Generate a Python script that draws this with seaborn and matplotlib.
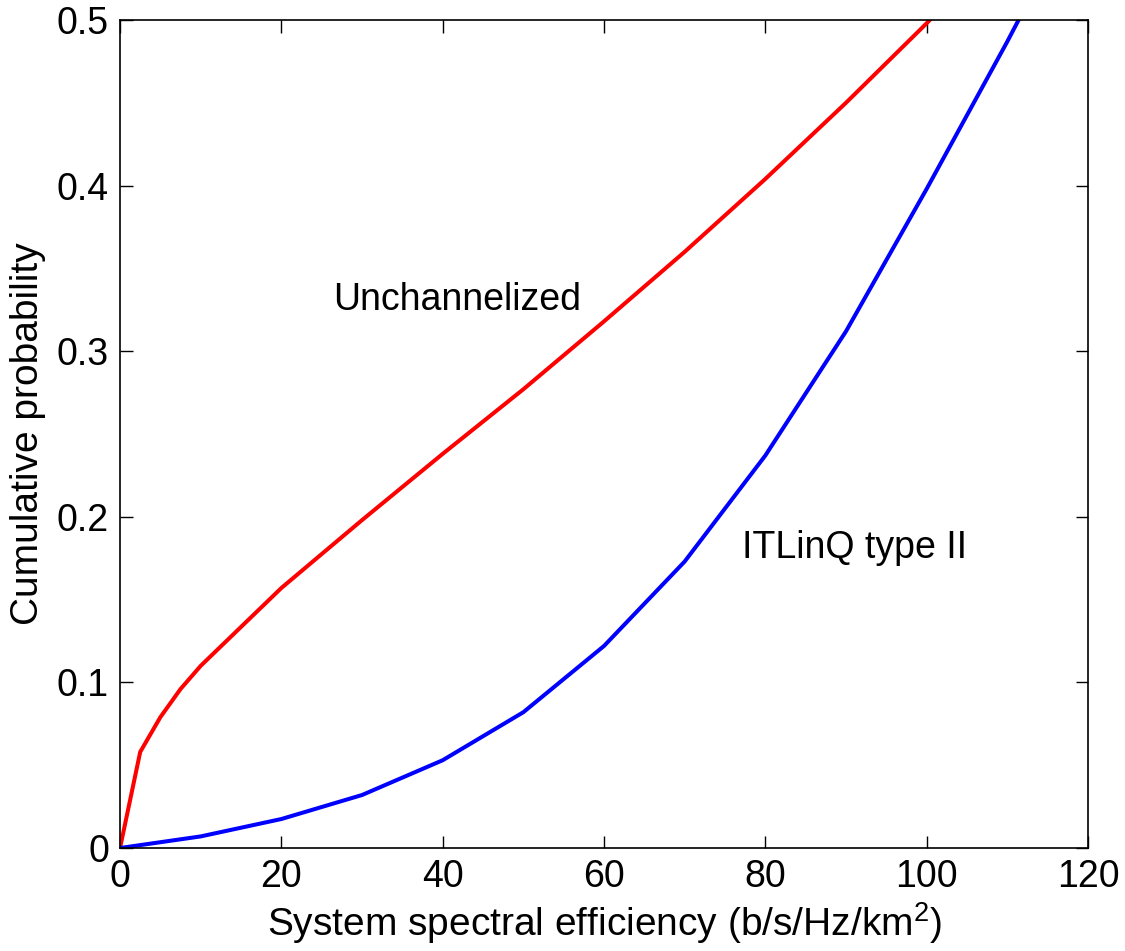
import numpy as np
import pandas as pd
import matplotlib
matplotlib.use('Agg')
import matplotlib.pyplot as plt
import seaborn as sns

# Data
x_unch = [0, 2.5, 5, 7.5, 10, 20, 30, 40, 50, 60, 70, 80, 90, 100, 110]
y_unch = [0, 0.058, 0.079, 0.096, 0.110, 0.157, 0.198, 0.238, 0.277, 0.318, 0.360, 0.404, 0.450, 0.498, 0.55]

x_itl = [0, 10, 20, 30, 40, 50, 60, 70, 80, 90, 100, 110, 120]
y_itl = [0, 0.007, 0.0175, 0.032, 0.053, 0.082, 0.122, 0.173, 0.237, 0.312, 0.398, 0.487, 0.58]

labels = ['Unchannelized', 'ITLinQ type II']
colors = ['#ff0000', '#0000ff']

df = pd.concat([
    pd.DataFrame({'x': x_unch, 'y': y_unch, 'scheme': labels[0]}),
    pd.DataFrame({'x': x_itl, 'y': y_itl, 'scheme': labels[1]}),
])

sns.set_style('ticks', {'axes.edgecolor': 'black', 'text.color': 'black',
                        'axes.labelcolor': 'black', 'xtick.color': 'black',
                        'ytick.color': 'black'})
plt.rcParams['font.family'] = ['Liberation Sans', 'DejaVu Sans']
plt.rcParams['mathtext.fontset'] = 'custom'
plt.rcParams['mathtext.rm'] = 'Liberation Sans'

fig = plt.figure(figsize=(11.25, 9.51), dpi=100)
ax = fig.add_axes([0.1067, 0.1083, 0.8604, 0.8707])

sns.lineplot(data=df, x='x', y='y', hue='scheme', palette=colors,
             linewidth=2.9, legend=False, ax=ax, sort=False)

ax.set_xlim(0, 120)
ax.set_ylim(0, 0.5)
ax.set_xticks([0, 20, 40, 60, 80, 100, 120])
ax.set_yticks([0, 0.1, 0.2, 0.3, 0.4, 0.5])
ax.set_yticklabels(['0', '0.1', '0.2', '0.3', '0.4', '0.5'])
ax.tick_params(direction='in', top=True, right=True, length=9, width=1,
               labelsize=27, pad=8, colors='black')
for s in ax.spines.values():
    s.set_linewidth(1.2)
    s.set_color('black')
    s.set_visible(True)

ax.set_xlabel('System spectral efficiency (b/s/Hz/km$^2$)', fontsize=28, labelpad=4)
ax.set_ylabel('Cumulative probability', fontsize=28, labelpad=8)

ax.text(41.8, 0.331, labels[0], fontsize=27, ha='center', va='center')
ax.text(91.1, 0.181, labels[1], fontsize=27, ha='center', va='center')

fig.savefig('out.png', dpi=100)
